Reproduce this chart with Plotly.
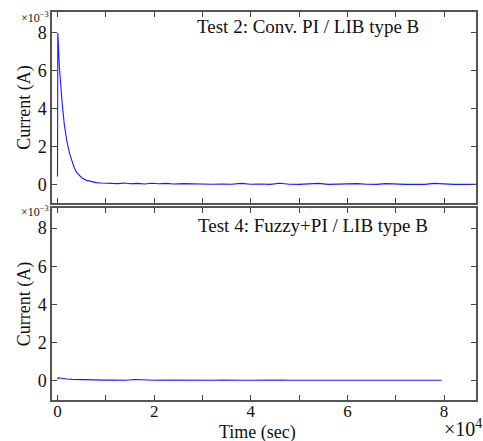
import plotly.graph_objects as go

# Current values in units of 1e-3 A, time in seconds
top_t = [0, 60, 150, 380, 700, 1000, 1400, 1900, 2500, 3000, 3500, 4000, 5000, 6000,
         7000, 8000, 9000, 10000, 11000, 12500, 14000, 15000, 16500, 18000, 19500,
         21000, 22500, 24000, 26000, 28000, 30000, 32000, 34000, 36000, 38000, 40000,
         42000, 44000, 46000, 48000, 50000, 52000, 54000, 56000, 58000, 60000, 62000,
         64000, 66000, 68000, 70000, 72000, 74000, 76000, 78000, 80000, 82000, 84000, 86600]
top_i = [0.45, 8.0, 7.6, 6.2, 5.0, 4.2, 3.2, 2.35, 1.65, 1.2, 0.88, 0.65, 0.38, 0.24,
         0.16, 0.12, 0.10, 0.09, 0.10, 0.07, 0.10, 0.06, 0.08, 0.05, 0.09,
         0.06, 0.08, 0.05, 0.07, 0.05, 0.06, 0.04, 0.05, 0.04, 0.08, 0.04,
         0.05, 0.03, 0.09, 0.04, 0.03, 0.04, 0.08, 0.03, 0.04, 0.03, 0.07,
         0.04, 0.03, 0.07, 0.04, 0.03, 0.04, 0.03, 0.08, 0.04, 0.03, 0.03, 0.03]

bot_t = [0, 200, 500, 1000, 1500, 2000, 3000, 4000, 5000, 6000, 7000, 8000, 9000,
         10000, 12000, 14000, 16000, 18000, 20000, 22000, 24000, 26000, 28000, 30000,
         32000, 34000, 36000, 38000, 40000, 42000, 44000, 46000, 48000, 50000, 52000,
         54000, 56000, 58000, 60000, 62000, 64000, 66000, 68000, 70000, 72000, 74000,
         76000, 78000, 79500]
bot_i = [0.08, 0.17, 0.15, 0.12, 0.10, 0.10, 0.08, 0.07, 0.08, 0.05, 0.06, 0.04, 0.05,
         0.04, 0.05, 0.03, 0.07, 0.04, 0.03, 0.05, 0.04, 0.06, 0.03, 0.04,
         0.03, 0.04, 0.05, 0.03, 0.03, 0.04, 0.03, 0.05, 0.03, 0.03, 0.06,
         0.03, 0.04, 0.03, 0.04, 0.05, 0.03, 0.04, 0.06, 0.03, 0.05, 0.04,
         0.06, 0.03, 0.03]

x_ticks = [0, 10000, 20000, 30000, 40000, 50000, 60000, 70000, 80000]
x_labels = ["0", "", "2", "", "4", "", "6", "", "8"]
y_ticks = [0, 2, 4, 6, 8]
y_labels = ["0", "2", "4", "6", "8"]

titles = ["Test 2: Conv. PI / LIB type B", "Test 4: Fuzzy+PI / LIB type B"]

W, H = 483, 441
SERIF = "Liberation Serif, Times New Roman, serif"
fig = go.Figure()
fig.add_trace(go.Scatter(x=top_t, y=top_i, mode="lines", line=dict(color="#1a1aff", width=1.1),
                         xaxis="x", yaxis="y", showlegend=False))
fig.add_trace(go.Scatter(x=bot_t, y=bot_i, mode="lines", line=dict(color="#1a1aff", width=1.1),
                         xaxis="x2", yaxis="y2", showlegend=False))

font = dict(family=SERIF, size=18, color="#111")
tfont = dict(family=SERIF, size=17, color="#111")
xdom = [52 / W, 476 / W]
common_x = dict(range=[-1140, 86600], tickvals=x_ticks, ticks="inside", ticklen=5,
                tickcolor="#444", showline=True, linecolor="#555", linewidth=1.5,
                mirror="allticks", showgrid=False, zeroline=False, domain=xdom,
                tickfont=tfont)
common_y = dict(tickvals=y_ticks, ticktext=y_labels, ticks="inside", ticklen=5,
                tickcolor="#444", showline=True, linecolor="#555", linewidth=1.5,
                mirror="allticks", showgrid=False, zeroline=False, tickfont=font,
                title=dict(text="Current (A)", font=font, standoff=2))

fig.update_layout(
    width=W, height=H, margin=dict(l=0, r=0, t=0, b=0),
    paper_bgcolor="white", plot_bgcolor="white",
    xaxis=dict(common_x, anchor="y", ticktext=[""] * len(x_ticks)),
    yaxis=dict(common_y, domain=[1 - 203 / H, 1 - 12 / H], range=[-0.95, 9.1], anchor="x"),
    xaxis2=dict(common_x, anchor="y2", ticktext=x_labels, ticklabelstandoff=-5),
    yaxis2=dict(common_y, domain=[1 - 400 / H, 1 - 208 / H], range=[-1.0, 9.05], anchor="x2"),
)

ann_font = dict(family=SERIF, size=19, color="#111")
fig.add_annotation(text=titles[0], x=308 / W, y=1 - 27 / H, xref="paper", yref="paper",
                   showarrow=False, font=ann_font, xanchor="center", yanchor="middle")
fig.add_annotation(text=titles[1], x=313 / W, y=1 - 225 / H, xref="paper", yref="paper",
                   showarrow=False, font=ann_font, xanchor="center", yanchor="middle")
fig.add_annotation(text="Time (sec)", x=257 / W, y=0, xref="paper", yref="paper",
                   showarrow=False, font=font, xanchor="center", yanchor="bottom",
                   yshift=-3, borderpad=0)
small = dict(family=SERIF, size=12, color="#111")
for yy in [17, 211]:
    fig.add_annotation(text="×10<sup>−3</sup>", x=51 / W, y=1 - yy / H, xref="paper", yref="paper",
                       showarrow=False, font=small, xanchor="right", yanchor="middle")
fig.add_annotation(text="×10<sup>4</sup>", x=483 / W, y=0, xref="paper", yref="paper",
                   showarrow=False, font=dict(family=SERIF, size=20, color="#111"),
                   xanchor="right", yanchor="bottom", borderpad=0)

fig.write_html("out.html")
